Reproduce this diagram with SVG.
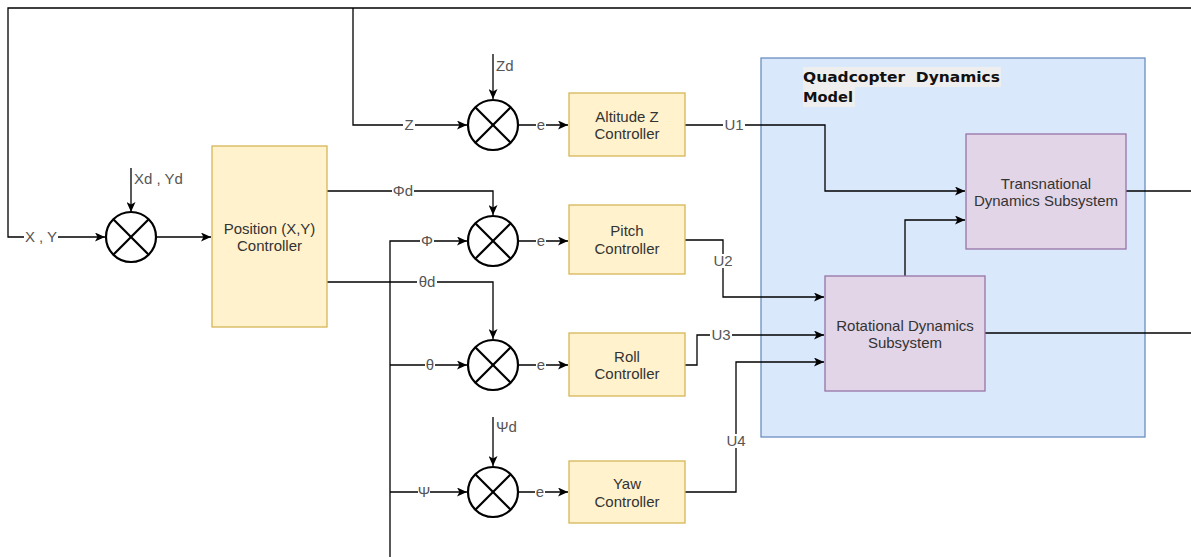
<svg xmlns="http://www.w3.org/2000/svg" width="1191" height="557" viewBox="0 0 1191 557">
<style>
.ln{fill:none;stroke:#000;stroke-width:1.3}
.sum circle{fill:#fff;stroke:#000;stroke-width:2.2}
.sum line{stroke:#000;stroke-width:2.2}
.ctl{fill:#fff2cc;stroke:#d6b656;stroke-width:1.3}
.sub{fill:#e1d5e7;stroke:#9673a6;stroke-width:1.3}
.grp{fill:#dae8fc;stroke:#6c8ebf;stroke-width:1.3}
.bg{fill:#fff}
text{font-family:"Liberation Sans",Arial,sans-serif;font-size:15px;fill:#333}
.c{text-anchor:middle}
.lbl{text-anchor:middle;fill:#555}
.lt{fill:#555}
.t{font-family:"DejaVu Sans",Verdana,sans-serif;font-weight:bold;fill:#111;font-size:14px}
</style>
<defs>
<marker id="arr" markerUnits="userSpaceOnUse" markerWidth="11" markerHeight="9" refX="10" refY="4.5" orient="auto">
<path d="M0,0 L10,4.5 L0,9 L2.5,4.5 Z" fill="#000"/>
</marker>
</defs>
<g id="model">
<rect class="grp" x="761" y="58" width="384" height="379"/>
<rect x="803" y="67" width="198" height="20" fill="#eeeeee"/>
<rect x="803" y="87" width="52" height="20" fill="#eeeeee"/>
<text class="t" x="803" y="82" textLength="197" lengthAdjust="spacingAndGlyphs" xml:space="preserve">Quadcopter  Dynamics</text>
<text class="t" x="803" y="102" textLength="50" lengthAdjust="spacingAndGlyphs">Model</text>
</g>
<g id="connectors">
<path class="ln" d="M1191,8 H8 V237 H105" marker-end="url(#arr)"/>
<path class="ln" d="M353,8 V125 H467" marker-end="url(#arr)"/>
<path class="ln" d="M131,168 V212" marker-end="url(#arr)"/>
<path class="ln" d="M157,237 H211" marker-end="url(#arr)"/>
<path class="ln" d="M493,54 V99" marker-end="url(#arr)"/>
<path class="ln" d="M518,125 H568" marker-end="url(#arr)"/>
<path class="ln" d="M685,125 H825 V191 H965" marker-end="url(#arr)"/>
<path class="ln" d="M327,191 H493 V215" marker-end="url(#arr)"/>
<path class="ln" d="M327,282 H493 V339" marker-end="url(#arr)"/>
<path class="ln" d="M390,557 V241 H467" marker-end="url(#arr)"/>
<path class="ln" d="M390,365 H467" marker-end="url(#arr)"/>
<path class="ln" d="M390,492 H467" marker-end="url(#arr)"/>
<path class="ln" d="M518,241 H568" marker-end="url(#arr)"/>
<path class="ln" d="M518,365 H568" marker-end="url(#arr)"/>
<path class="ln" d="M493,417 V466" marker-end="url(#arr)"/>
<path class="ln" d="M518,492 H568" marker-end="url(#arr)"/>
<path class="ln" d="M685,240 H723 V297 H824" marker-end="url(#arr)"/>
<path class="ln" d="M685,365 H697 V335 H824" marker-end="url(#arr)"/>
<path class="ln" d="M685,492 H736 V362 H824" marker-end="url(#arr)"/>
<path class="ln" d="M905,276 V220 H965" marker-end="url(#arr)"/>
<path class="ln" d="M1126,191 H1191"/>
<path class="ln" d="M985,333 H1191"/>
<rect class="bg" x="24" y="230" width="34" height="14"/>
<text class="lbl" x="41" y="242">X , Y</text>
<text class="lt" x="134" y="184">Xd , Yd</text>
<text class="lt" x="496" y="71">Zd</text>
<rect class="bg" x="403" y="118" width="12" height="14"/>
<text class="lbl" x="409" y="130">Z</text>
<rect class="bg" x="536" y="118" width="10" height="14"/>
<text class="lbl" x="541" y="130">e</text>
<rect class="bg" x="723" y="118" width="22" height="14"/>
<text class="lbl" x="734" y="130">U1</text>
<rect class="bg" x="392" y="184" width="22" height="14"/>
<text class="lbl" x="403" y="196">Φd</text>
<rect class="bg" x="420" y="234" width="14" height="14"/>
<text class="lbl" x="427" y="246">Φ</text>
<rect class="bg" x="536" y="234" width="10" height="14"/>
<text class="lbl" x="541" y="246">e</text>
<rect class="bg" x="417" y="275" width="20" height="14"/>
<text class="lbl" x="427" y="287">θd</text>
<rect class="bg" x="712" y="254" width="22" height="14"/>
<text class="lbl" x="723" y="266">U2</text>
<rect class="bg" x="710" y="328" width="22" height="14"/>
<text class="lbl" x="721" y="340">U3</text>
<rect class="bg" x="425" y="358" width="10" height="14"/>
<text class="lbl" x="430" y="370">θ</text>
<rect class="bg" x="536" y="358" width="10" height="14"/>
<text class="lbl" x="541" y="370">e</text>
<text class="lt" x="496" y="432">Ψd</text>
<rect class="bg" x="725" y="434" width="22" height="14"/>
<text class="lbl" x="736" y="446">U4</text>
<rect class="bg" x="418" y="485" width="12" height="14"/>
<text class="lbl" x="424" y="497">Ψ</text>
<rect class="bg" x="535" y="485" width="10" height="14"/>
<text class="lbl" x="540" y="497">e</text>
</g>
<g id="sum-xy" class="sum"><circle cx="131" cy="237" r="25"/><line x1="113.3" y1="219.3" x2="148.7" y2="254.7"/><line x1="148.7" y1="219.3" x2="113.3" y2="254.7"/></g>
<g id="sum-z" class="sum"><circle cx="493" cy="125" r="25"/><line x1="475.3" y1="107.3" x2="510.7" y2="142.7"/><line x1="510.7" y1="107.3" x2="475.3" y2="142.7"/></g>
<g id="sum-pitch" class="sum"><circle cx="493" cy="241" r="25"/><line x1="475.3" y1="223.3" x2="510.7" y2="258.7"/><line x1="510.7" y1="223.3" x2="475.3" y2="258.7"/></g>
<g id="sum-roll" class="sum"><circle cx="493" cy="365" r="25"/><line x1="475.3" y1="347.3" x2="510.7" y2="382.7"/><line x1="510.7" y1="347.3" x2="475.3" y2="382.7"/></g>
<g id="sum-yaw" class="sum"><circle cx="493" cy="492" r="25"/><line x1="475.3" y1="474.3" x2="510.7" y2="509.7"/><line x1="510.7" y1="474.3" x2="475.3" y2="509.7"/></g>
<g id="position"><rect class="ctl" x="212" y="146" width="115" height="181"/><text class="c" x="269.5" y="233.5">Position (X,Y)</text><text class="c" x="269.5" y="251">Controller</text></g>
<g id="altitude"><rect class="ctl" x="569" y="93" width="116" height="63"/><text class="c" x="627" y="121.5">Altitude Z</text><text class="c" x="627" y="139">Controller</text></g>
<g id="pitch"><rect class="ctl" x="569" y="205" width="116" height="69"/><text class="c" x="627" y="236">Pitch</text><text class="c" x="627" y="253.5">Controller</text></g>
<g id="roll"><rect class="ctl" x="569" y="333" width="116" height="63"/><text class="c" x="627" y="361.5">Roll</text><text class="c" x="627" y="379">Controller</text></g>
<g id="yaw"><rect class="ctl" x="569" y="461" width="116" height="62"/><text class="c" x="627" y="489">Yaw</text><text class="c" x="627" y="506.5">Controller</text></g>
<g id="translational"><rect class="sub" x="966" y="134" width="160" height="115"/><text class="c" x="1046" y="188.5">Transnational</text><text class="c" x="1046" y="206">Dynamics Subsystem</text></g>
<g id="rotational"><rect class="sub" x="825" y="276" width="160" height="115"/><text class="c" x="905" y="330.5">Rotational Dynamics</text><text class="c" x="905" y="348">Subsystem</text></g>
</svg>
